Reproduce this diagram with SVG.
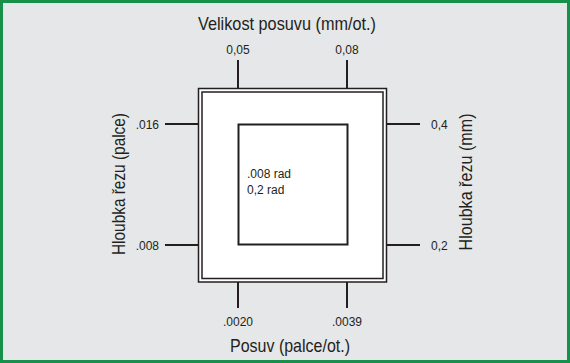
<svg xmlns="http://www.w3.org/2000/svg" width="570" height="363" viewBox="0 0 570 363">
<style>
.ln{stroke:#231f20;stroke-width:2;fill:none}
.box{stroke:#231f20;stroke-width:1.5;fill:#fff}
.bx2{stroke:#231f20;stroke-width:1.5;fill:none}
.num{font-family:"Liberation Sans",Arial,sans-serif;font-size:12px;fill:#231f20}
.ttl{font-family:"Liberation Sans",Arial,sans-serif;font-size:19px;fill:#231f20}
</style>
<rect x="1.5" y="1.5" width="567" height="360" fill="#e6e7e8" stroke="#17904a" stroke-width="3"/>
<g id="outer-frame">
<rect class="box" x="198.5" y="88.5" width="188" height="193.5"/>
<rect class="bx2" x="202" y="92" width="181" height="186.5"/>
</g>
<g id="inner-square">
<rect class="ln" x="238.5" y="124.5" width="109" height="120"/>
<text class="num" x="247" y="177.5">.008 rad</text>
<text class="num" x="247" y="193.5">0,2 rad</text>
</g>
<g id="connectors">
<line class="ln" x1="238" y1="60" x2="238" y2="88"/>
<line class="ln" x1="347" y1="60" x2="347" y2="88"/>
<line class="ln" x1="165" y1="124" x2="198" y2="124"/>
<line class="ln" x1="165" y1="245" x2="198" y2="245"/>
<line class="ln" x1="387" y1="124" x2="420" y2="124"/>
<line class="ln" x1="387" y1="245" x2="420" y2="245"/>
<line class="ln" x1="238" y1="282" x2="238" y2="308"/>
<line class="ln" x1="347" y1="282" x2="347" y2="308"/>
</g>
<g id="top-axis">
<text class="ttl" x="287" y="30" text-anchor="middle" textLength="178" lengthAdjust="spacingAndGlyphs">Velikost posuvu (mm/ot.)</text>
<text class="num" x="238" y="53.5" text-anchor="middle">0,05</text>
<text class="num" x="347" y="53.5" text-anchor="middle">0,08</text>
</g>
<g id="bottom-axis">
<text class="ttl" x="290" y="352" text-anchor="middle" textLength="120" lengthAdjust="spacingAndGlyphs">Posuv (palce/ot.)</text>
<text class="num" x="238" y="326" text-anchor="middle">.0020</text>
<text class="num" x="347" y="326" text-anchor="middle">.0039</text>
</g>
<g id="left-axis">
<text class="ttl" transform="translate(125 184) rotate(-90)" text-anchor="middle" textLength="142" lengthAdjust="spacingAndGlyphs">Hloubka řezu (palce)</text>
<text class="num" x="159" y="129" text-anchor="end">.016</text>
<text class="num" x="159" y="250" text-anchor="end">.008</text>
</g>
<g id="right-axis">
<text class="ttl" transform="translate(472 182) rotate(-90)" text-anchor="middle" textLength="137" lengthAdjust="spacingAndGlyphs">Hloubka řezu (mm)</text>
<text class="num" x="431" y="129">0,4</text>
<text class="num" x="431" y="250">0,2</text>
</g>
</svg>
